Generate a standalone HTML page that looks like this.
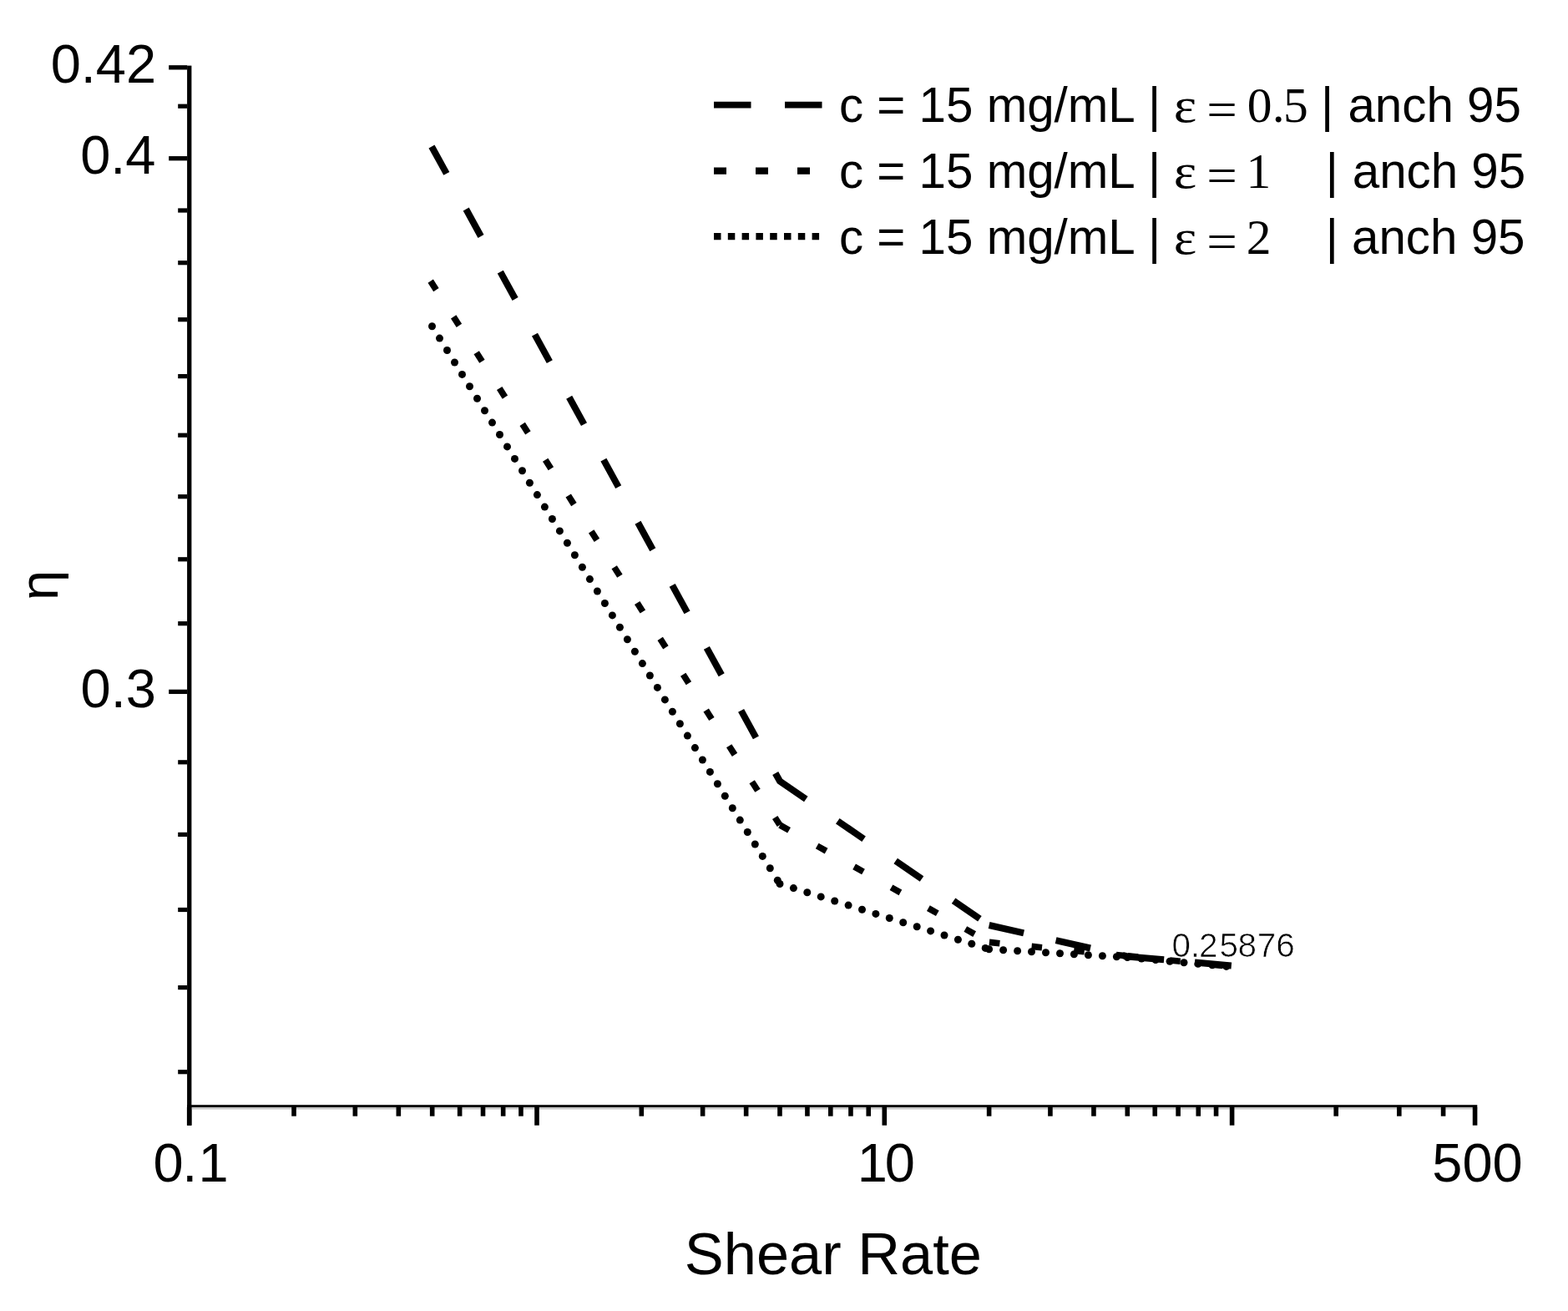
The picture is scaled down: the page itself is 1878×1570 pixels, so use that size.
<!DOCTYPE html>
<html><head><meta charset="utf-8"><title>Shear Rate vs eta</title>
<style>html,body{margin:0;padding:0;background:#fff;}body{width:1878px;height:1570px;overflow:hidden;}svg{display:block;}</style>
</head><body>
<svg width="1878" height="1570" viewBox="0 0 1878 1570">
<rect x="0" y="0" width="1878" height="1570" fill="#fff"/>
<g fill="#000">
<rect x="224.1" y="78.6" width="5.3" height="1269.1"/>
<rect x="224.1" y="1323.2" width="1545.2" height="3.0"/>
</g>
<rect x="229.4" y="1326.2" width="1539.9" height="2.3" fill="#c6c6c6"/>
<g fill="#000">
<rect x="202.2" y="78.15" width="22" height="5.3"/>
<rect x="202.2" y="187.05" width="22" height="5.3"/>
<rect x="202.2" y="825.75" width="22" height="5.3"/>
<rect x="213.2" y="124.60" width="11" height="5.2"/>
<rect x="213.2" y="249.40" width="11" height="5.2"/>
<rect x="213.2" y="312.10" width="11" height="5.2"/>
<rect x="213.2" y="380.10" width="11" height="5.2"/>
<rect x="213.2" y="448.00" width="11" height="5.2"/>
<rect x="213.2" y="518.60" width="11" height="5.2"/>
<rect x="213.2" y="592.10" width="11" height="5.2"/>
<rect x="213.2" y="667.20" width="11" height="5.2"/>
<rect x="213.2" y="744.10" width="11" height="5.2"/>
<rect x="213.2" y="910.20" width="11" height="5.2"/>
<rect x="213.2" y="996.80" width="11" height="5.2"/>
<rect x="213.2" y="1086.90" width="11" height="5.2"/>
<rect x="213.2" y="1180.00" width="11" height="5.2"/>
<rect x="213.2" y="1281.10" width="11" height="5.2"/>
<rect x="223.90" y="1326" width="5.6" height="21.7"/>
<rect x="640.20" y="1326" width="5.6" height="21.7"/>
<rect x="1056.50" y="1326" width="5.6" height="21.7"/>
<rect x="1472.80" y="1326" width="5.6" height="21.7"/>
<rect x="1763.78" y="1326" width="5.6" height="21.7"/>
<rect x="349.22" y="1326" width="5.6" height="10.7"/>
<rect x="422.53" y="1326" width="5.6" height="10.7"/>
<rect x="474.54" y="1326" width="5.6" height="10.7"/>
<rect x="514.88" y="1326" width="5.6" height="10.7"/>
<rect x="547.84" y="1326" width="5.6" height="10.7"/>
<rect x="575.71" y="1326" width="5.6" height="10.7"/>
<rect x="599.86" y="1326" width="5.6" height="10.7"/>
<rect x="621.15" y="1326" width="5.6" height="10.7"/>
<rect x="765.52" y="1326" width="5.6" height="10.7"/>
<rect x="838.83" y="1326" width="5.6" height="10.7"/>
<rect x="890.84" y="1326" width="5.6" height="10.7"/>
<rect x="931.18" y="1326" width="5.6" height="10.7"/>
<rect x="964.14" y="1326" width="5.6" height="10.7"/>
<rect x="992.01" y="1326" width="5.6" height="10.7"/>
<rect x="1016.16" y="1326" width="5.6" height="10.7"/>
<rect x="1037.45" y="1326" width="5.6" height="10.7"/>
<rect x="1181.82" y="1326" width="5.6" height="10.7"/>
<rect x="1255.13" y="1326" width="5.6" height="10.7"/>
<rect x="1307.14" y="1326" width="5.6" height="10.7"/>
<rect x="1347.48" y="1326" width="5.6" height="10.7"/>
<rect x="1380.44" y="1326" width="5.6" height="10.7"/>
<rect x="1408.31" y="1326" width="5.6" height="10.7"/>
<rect x="1432.46" y="1326" width="5.6" height="10.7"/>
<rect x="1453.75" y="1326" width="5.6" height="10.7"/>
<rect x="1597.40" y="1326" width="5.6" height="10.7"/>
<rect x="1673.00" y="1326" width="5.6" height="10.7"/>
<rect x="1725.80" y="1326" width="5.6" height="10.7"/>
</g>
<g fill="#000"><circle cx="517.5" cy="390.7" r="4.5"/><circle cx="526.5" cy="405.1" r="4.5"/><circle cx="535.5" cy="419.5" r="4.5"/><circle cx="544.5" cy="434.0" r="4.5"/><circle cx="553.5" cy="448.4" r="4.5"/><circle cx="562.5" cy="462.8" r="4.5"/><circle cx="571.5" cy="477.2" r="4.5"/><circle cx="580.5" cy="491.7" r="4.5"/><circle cx="589.5" cy="506.1" r="4.5"/><circle cx="598.5" cy="520.5" r="4.5"/><circle cx="607.5" cy="534.9" r="4.5"/><circle cx="616.5" cy="549.4" r="4.5"/><circle cx="625.5" cy="563.8" r="4.5"/><circle cx="634.4" cy="578.2" r="4.5"/><circle cx="643.4" cy="592.6" r="4.5"/><circle cx="652.4" cy="607.1" r="4.5"/><circle cx="661.4" cy="621.5" r="4.5"/><circle cx="670.4" cy="635.9" r="4.5"/><circle cx="679.4" cy="650.3" r="4.5"/><circle cx="688.4" cy="664.8" r="4.5"/><circle cx="697.4" cy="679.2" r="4.5"/><circle cx="706.4" cy="693.6" r="4.5"/><circle cx="715.4" cy="708.0" r="4.5"/><circle cx="724.4" cy="722.5" r="4.5"/><circle cx="733.4" cy="736.9" r="4.5"/><circle cx="742.4" cy="751.3" r="4.5"/><circle cx="751.4" cy="765.7" r="4.5"/><circle cx="760.4" cy="780.2" r="4.5"/><circle cx="769.4" cy="794.6" r="4.5"/><circle cx="778.4" cy="809.0" r="4.5"/><circle cx="787.4" cy="823.4" r="4.5"/><circle cx="796.4" cy="837.9" r="4.5"/><circle cx="805.4" cy="852.3" r="4.5"/><circle cx="814.4" cy="866.7" r="4.5"/><circle cx="823.4" cy="881.1" r="4.5"/><circle cx="832.4" cy="895.6" r="4.5"/><circle cx="841.4" cy="910.0" r="4.5"/><circle cx="850.4" cy="924.4" r="4.5"/><circle cx="859.4" cy="938.8" r="4.5"/><circle cx="868.3" cy="953.3" r="4.5"/><circle cx="877.3" cy="967.7" r="4.5"/><circle cx="886.3" cy="982.1" r="4.5"/><circle cx="895.3" cy="996.5" r="4.5"/><circle cx="904.3" cy="1011.0" r="4.5"/><circle cx="913.3" cy="1025.4" r="4.5"/><circle cx="922.3" cy="1039.8" r="4.5"/><circle cx="931.3" cy="1054.2" r="4.5"/><circle cx="934.0" cy="1058.5" r="4.5"/><circle cx="950.4" cy="1063.6" r="4.5"/><circle cx="966.8" cy="1068.8" r="4.5"/><circle cx="983.2" cy="1073.9" r="4.5"/><circle cx="999.7" cy="1079.0" r="4.5"/><circle cx="1016.1" cy="1084.1" r="4.5"/><circle cx="1032.5" cy="1089.3" r="4.5"/><circle cx="1048.9" cy="1094.4" r="4.5"/><circle cx="1065.3" cy="1099.5" r="4.5"/><circle cx="1081.7" cy="1104.7" r="4.5"/><circle cx="1098.2" cy="1109.8" r="4.5"/><circle cx="1114.6" cy="1114.9" r="4.5"/><circle cx="1131.0" cy="1120.0" r="4.5"/><circle cx="1147.4" cy="1125.2" r="4.5"/><circle cx="1163.8" cy="1130.3" r="4.5"/><circle cx="1180.2" cy="1135.4" r="4.5"/><circle cx="1184.6" cy="1136.8" r="4.5"/><circle cx="1201.6" cy="1137.8" r="4.5"/><circle cx="1218.6" cy="1138.8" r="4.5"/><circle cx="1235.5" cy="1139.8" r="4.5"/><circle cx="1252.5" cy="1140.8" r="4.5"/><circle cx="1269.5" cy="1141.8" r="4.5"/><circle cx="1286.4" cy="1142.8" r="4.5"/><circle cx="1303.4" cy="1143.8" r="4.5"/><circle cx="1320.4" cy="1144.7" r="4.5"/><circle cx="1337.4" cy="1145.7" r="4.5"/><circle cx="1350.3" cy="1146.5" r="4.5"/><circle cx="1367.2" cy="1148.1" r="4.5"/><circle cx="1384.1" cy="1149.6" r="4.5"/><circle cx="1401.1" cy="1151.2" r="4.5"/><circle cx="1418.0" cy="1152.7" r="4.5"/><circle cx="1434.9" cy="1154.3" r="4.5"/><circle cx="1451.9" cy="1155.8" r="4.5"/><circle cx="1468.8" cy="1157.4" r="4.5"/></g>
<g fill="none" stroke="#000" stroke-width="7.6" stroke-linecap="butt" stroke-linejoin="miter"><path d="M515.7 336.6 L522.4 347.1"/><path d="M543.2 379.4 L549.9 389.9"/><path d="M570.7 422.2 L577.4 432.7"/><path d="M598.2 465.0 L604.9 475.6"/><path d="M625.7 507.9 L632.4 518.4"/><path d="M653.2 550.7 L659.9 561.2"/><path d="M680.7 593.5 L687.4 604.1"/><path d="M708.2 636.4 L714.9 646.9"/><path d="M735.7 679.2 L742.4 689.7"/><path d="M763.2 722.0 L769.9 732.5"/><path d="M790.7 764.9 L797.4 775.4"/><path d="M818.2 807.7 L824.9 818.2"/><path d="M845.7 850.5 L852.4 861.0"/><path d="M873.2 893.3 L880.0 903.9"/><path d="M900.7 936.2 L907.5 946.7"/><path d="M928.2 979.0 L934.0 988.0"/><path d="M934.2 988.1 L945.1 994.3"/><path d="M978.7 1013.0 L989.6 1019.1"/><path d="M1023.1 1037.9 L1034.0 1044.0"/><path d="M1067.5 1062.8 L1078.4 1068.9"/><path d="M1111.9 1087.6 L1122.8 1093.8"/><path d="M1156.3 1112.5 L1167.2 1118.6"/><path d="M1184.9 1128.4 L1197.4 1129.7"/><path d="M1235.6 1133.4 L1248.0 1134.7"/><path d="M1286.2 1138.5 L1298.7 1139.7"/><path d="M1336.9 1143.5 L1349.3 1144.7"/><path d="M1350.6 1144.8 L1363.0 1146.1"/><path d="M1401.2 1150.0 L1413.7 1151.2"/><path d="M1451.9 1155.1 L1464.3 1156.4"/></g>
<g fill="none" stroke="#000" stroke-width="8.0" stroke-linecap="butt" stroke-linejoin="miter"><path d="M517.0 175.5 L534.8 207.9"/><path d="M558.2 250.5 L576.0 283.0"/><path d="M599.3 325.6 L617.1 358.0"/><path d="M640.5 400.6 L658.3 433.1"/><path d="M681.7 475.7 L699.5 508.1"/><path d="M722.9 550.7 L740.7 583.2"/><path d="M764.0 625.8 L781.8 658.2"/><path d="M805.2 700.8 L823.0 733.3"/><path d="M846.4 775.9 L864.2 808.3"/><path d="M887.6 850.9 L905.4 883.4"/><path d="M928.7 926.0 L934.0 935.5 L965.3 957.0"/><path d="M1003.3 983.2 L1034.6 1004.8"/><path d="M1072.7 1031.0 L1104.0 1052.5"/><path d="M1142.1 1078.7 L1173.4 1100.3"/><path d="M1184.6 1108.0 L1226.1 1117.4"/><path d="M1264.6 1126.1 L1306.0 1135.5"/><path d="M1344.6 1144.2 L1350.3 1145.5 L1394.1 1149.3"/><path d="M1431.0 1152.6 L1474.8 1156.4"/></g>
<line x1="855" y1="125.7" x2="985.6" y2="125.7" stroke="#000" stroke-width="7.8" stroke-dasharray="44.5 40.5"/>
<line x1="855" y1="204.6" x2="970" y2="204.6" stroke="#000" stroke-width="8.2" stroke-dasharray="15 35"/>
<line x1="855" y1="283.2" x2="982.8" y2="283.2" stroke="#000" stroke-width="8.2" stroke-dasharray="8.5 8.3"/>
<g font-family="'Liberation Sans', sans-serif" font-size="65" fill="#000">
<text x="60.66" y="99.4">0.42</text>
<text x="96.16" y="208">0.4</text>
<text x="96.56" y="846.7">0.3</text>
<text y="1415" x="183.56 218.2 237.6">0.1</text>
<text y="1415" x="1026.7 1059.76">10</text>
<text x="1715.3" y="1415">500</text>
</g>
<text font-family="'Liberation Sans', sans-serif" font-size="65" transform="translate(68.9,718.9) rotate(-90)">η</text>
<text font-family="'Liberation Sans', sans-serif" font-size="70.4" x="819.8" y="1526.4">Shear Rate</text>
<text font-family="'Liberation Sans', sans-serif" font-size="40.5" stroke="#fff" stroke-width="0.7" y="1146.1" x="1403.56 1425.69 1436.11 1460.62 1482.48 1505.87 1528.3">0.25876</text>
<g font-family="'Liberation Sans', sans-serif" font-size="58.3" fill="#000">
<text x="1005.0" y="146">c = 15 mg/mL</text>
<text x="1375.09" y="146">|</text>
<text x="1582.09" y="146">|</text>
<text x="1614.42" y="146">anch 95</text>
<text x="1005.0" y="224.6">c = 15 mg/mL</text>
<text x="1375.09" y="224.6">|</text>
<text x="1587.79" y="224.6">|</text>
<text x="1619.72" y="224.6">anch 95</text>
<text x="1005.0" y="303.6">c = 15 mg/mL</text>
<text x="1375.09" y="303.6">|</text>
<text x="1587.79" y="303.6">|</text>
<text x="1619.02" y="303.6">anch 95</text>
</g>
<g font-family="'Liberation Serif', serif" font-size="59.5" fill="#000">
<text transform="translate(1405.77,146) scale(1.1,1)">ε</text>
<text transform="translate(1445.27,151) scale(1.09,1)">=</text>
<text transform="translate(1405.77,224.6) scale(1.1,1)">ε</text>
<text transform="translate(1445.27,229.6) scale(1.09,1)">=</text>
<text transform="translate(1405.77,303.6) scale(1.1,1)">ε</text>
<text transform="translate(1445.27,308.6) scale(1.09,1)">=</text>
<text y="146" x="1493.73 1523.68 1537.04">0.5</text>
<text y="224.6" x="1492.6">1</text>
<text y="303.6" x="1492.69">2</text>
</g>
</svg>
</body></html>
